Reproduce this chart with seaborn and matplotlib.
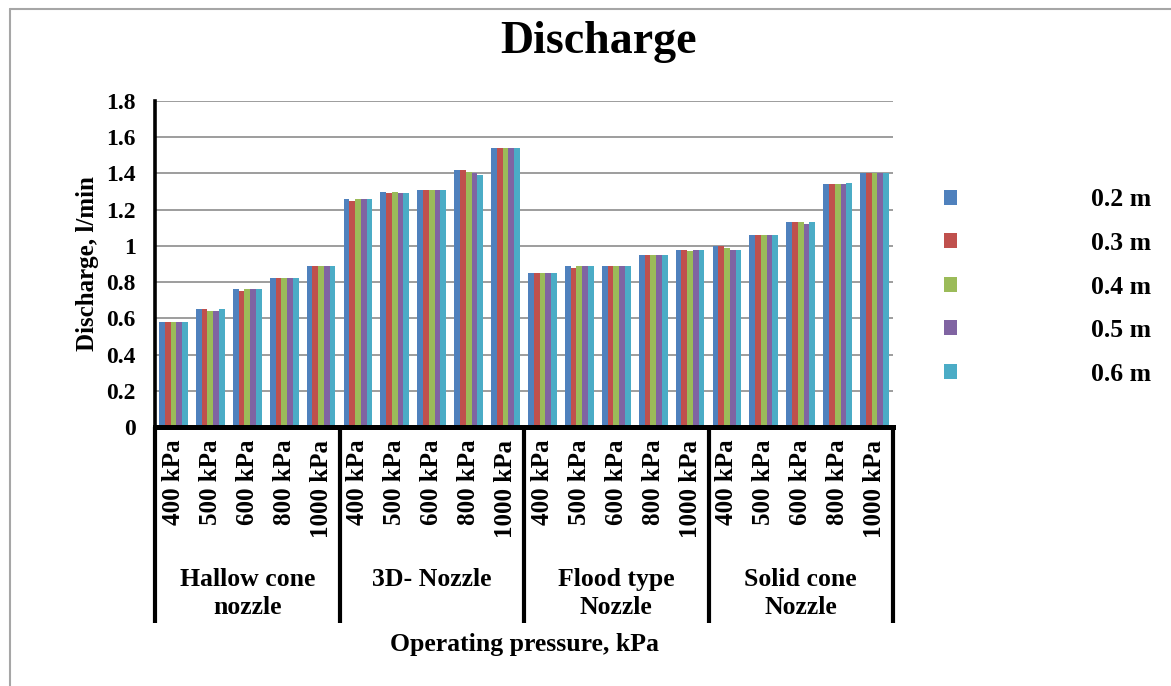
import numpy as np
import pandas as pd
import matplotlib
matplotlib.use("Agg")
import matplotlib.pyplot as plt
import matplotlib.transforms as mtransforms
from matplotlib.lines import Line2D
import seaborn as sns

# categories
nozzles = ["Hallow cone\nnozzle", "3D- Nozzle", "Flood type\nNozzle", "Solid cone\nNozzle"]
pressures = ["400 kPa", "500 kPa", "600 kPa", "800 kPa", "1000 kPa"]
heights = ["0.2 m", "0.3 m", "0.4 m", "0.5 m", "0.6 m"]

# discharge (l/min) per height, 20 values = 4 nozzles x 5 pressures
q_02 = [0.58, 0.65, 0.76, 0.82, 0.89, 1.26, 1.30, 1.31, 1.42, 1.54,
        0.85, 0.89, 0.89, 0.95, 0.98, 1.00, 1.06, 1.13, 1.34, 1.40]
q_03 = [0.58, 0.65, 0.75, 0.82, 0.89, 1.25, 1.29, 1.31, 1.42, 1.54,
        0.85, 0.88, 0.89, 0.95, 0.98, 1.00, 1.06, 1.13, 1.34, 1.40]
q_04 = [0.58, 0.64, 0.76, 0.82, 0.89, 1.26, 1.30, 1.31, 1.41, 1.54,
        0.85, 0.89, 0.89, 0.95, 0.97, 0.99, 1.06, 1.13, 1.34, 1.40]
q_05 = [0.58, 0.64, 0.76, 0.82, 0.89, 1.26, 1.29, 1.31, 1.40, 1.54,
        0.85, 0.89, 0.89, 0.95, 0.98, 0.98, 1.06, 1.12, 1.34, 1.40]
q_06 = [0.58, 0.65, 0.76, 0.82, 0.89, 1.26, 1.29, 1.31, 1.39, 1.54,
        0.85, 0.89, 0.89, 0.95, 0.98, 0.98, 1.06, 1.13, 1.35, 1.40]

colors = ["#4F81BD", "#C0504D", "#9BBB59", "#8064A2", "#4BACC6"]

# long-form table for seaborn
keys = [f"{n}|{p}" for n in nozzles for p in pressures]
rows = []
for h, vals in zip(heights, [q_02, q_03, q_04, q_05, q_06]):
    for k, v in zip(keys, vals):
        rows.append({"Point": k, "Height": h, "Discharge": v})
df = pd.DataFrame(rows)

sns.set_style("white")
plt.rcParams["font.family"] = ["Liberation Serif", "DejaVu Serif"]
plt.rcParams["font.weight"] = "bold"
plt.rcParams["text.color"] = "black"
plt.rcParams["axes.labelcolor"] = "black"
plt.rcParams["xtick.color"] = "black"
plt.rcParams["ytick.color"] = "black"

fig = plt.figure(figsize=(11.71, 6.86), dpi=100)
ax = fig.add_axes([155 / 1171, 1 - 427 / 686, (893 - 155) / 1171, (427 - 101) / 686])

sns.barplot(data=df, x="Point", y="Discharge", hue="Height", order=keys,
            hue_order=heights, palette=colors, saturation=1, width=0.78,
            gap=0, linewidth=0, ax=ax)

ax.set_ylim(0, 1.8)
ax.set_xlim(-0.5, len(keys) - 0.5)
ax.set_yticks(np.arange(0, 1.81, 0.2))
ax.set_yticklabels(["0", "0.2", "0.4", "0.6", "0.8", "1", "1.2", "1.4", "1.6", "1.8"])
ax.yaxis.grid(True, color="#8c8c8c", linewidth=1.2)
ax.set_axisbelow(True)
ax.tick_params(axis="y", length=4, width=3, color="black", pad=10, labelsize=17)
ax.tick_params(axis="x", length=0, pad=9, labelsize=18)
ax.set_xticks(range(len(keys)))
ax.set_xticklabels([p for n in nozzles for p in pressures], rotation=90)

for s in ["top", "right"]:
    ax.spines[s].set_visible(False)
ax.spines["left"].set_linewidth(2.6)
ax.spines["bottom"].set_linewidth(3.6)
ax.spines["left"].set_color("black")
ax.spines["bottom"].set_color("black")

ax.set_xlabel("")
ax.set_ylabel("Discharge, l/min", fontsize=18, fontweight="bold", labelpad=5)

# group separators and group labels under the axis
trans = mtransforms.blended_transform_factory(ax.transData, ax.transAxes)
axh = 427 - 101
for i in range(len(nozzles) + 1):
    xpos = i * len(pressures) - 0.5
    ax.plot([xpos, xpos], [0, -(623 - 427) / axh], color="black", lw=3,
            transform=trans, clip_on=False, solid_capstyle="butt")
for i, n in enumerate(nozzles):
    xc = i * len(pressures) + (len(pressures) - 1) / 2
    ax.text(xc, -(568 - 427) / axh, n, transform=trans, ha="center", va="top",
            fontsize=18.5, fontweight="bold", linespacing=1.3)

ax.text(0.5, -(645 - 427) / axh, "Operating pressure, kPa", transform=ax.transAxes,
        ha="center", va="center", fontsize=18.5, fontweight="bold")

fig.suptitle("Discharge", x=599 / 1171, y=1 - 42 / 686, va="center",
             fontsize=33, fontweight="bold")

leg = ax.legend(loc="center left", bbox_to_anchor=(944 / 1171, 1 - 287 / 686),
                bbox_transform=fig.transFigure, frameon=False, fontsize=18.5,
                handlelength=0.52, handleheight=0.52, handletextpad=5.2,
                labelspacing=0.8, borderpad=0, borderaxespad=0, title=None)

# light chart-area border (top and left visible in reference)
fig.add_artist(Line2D([10 / 1171, 10 / 1171], [0, 1 - 9 / 686], color="#a6a6a6", lw=1.5))
fig.add_artist(Line2D([10 / 1171, 1], [1 - 9 / 686, 1 - 9 / 686], color="#a6a6a6", lw=1.5))

fig.savefig("out.png", dpi=100)
